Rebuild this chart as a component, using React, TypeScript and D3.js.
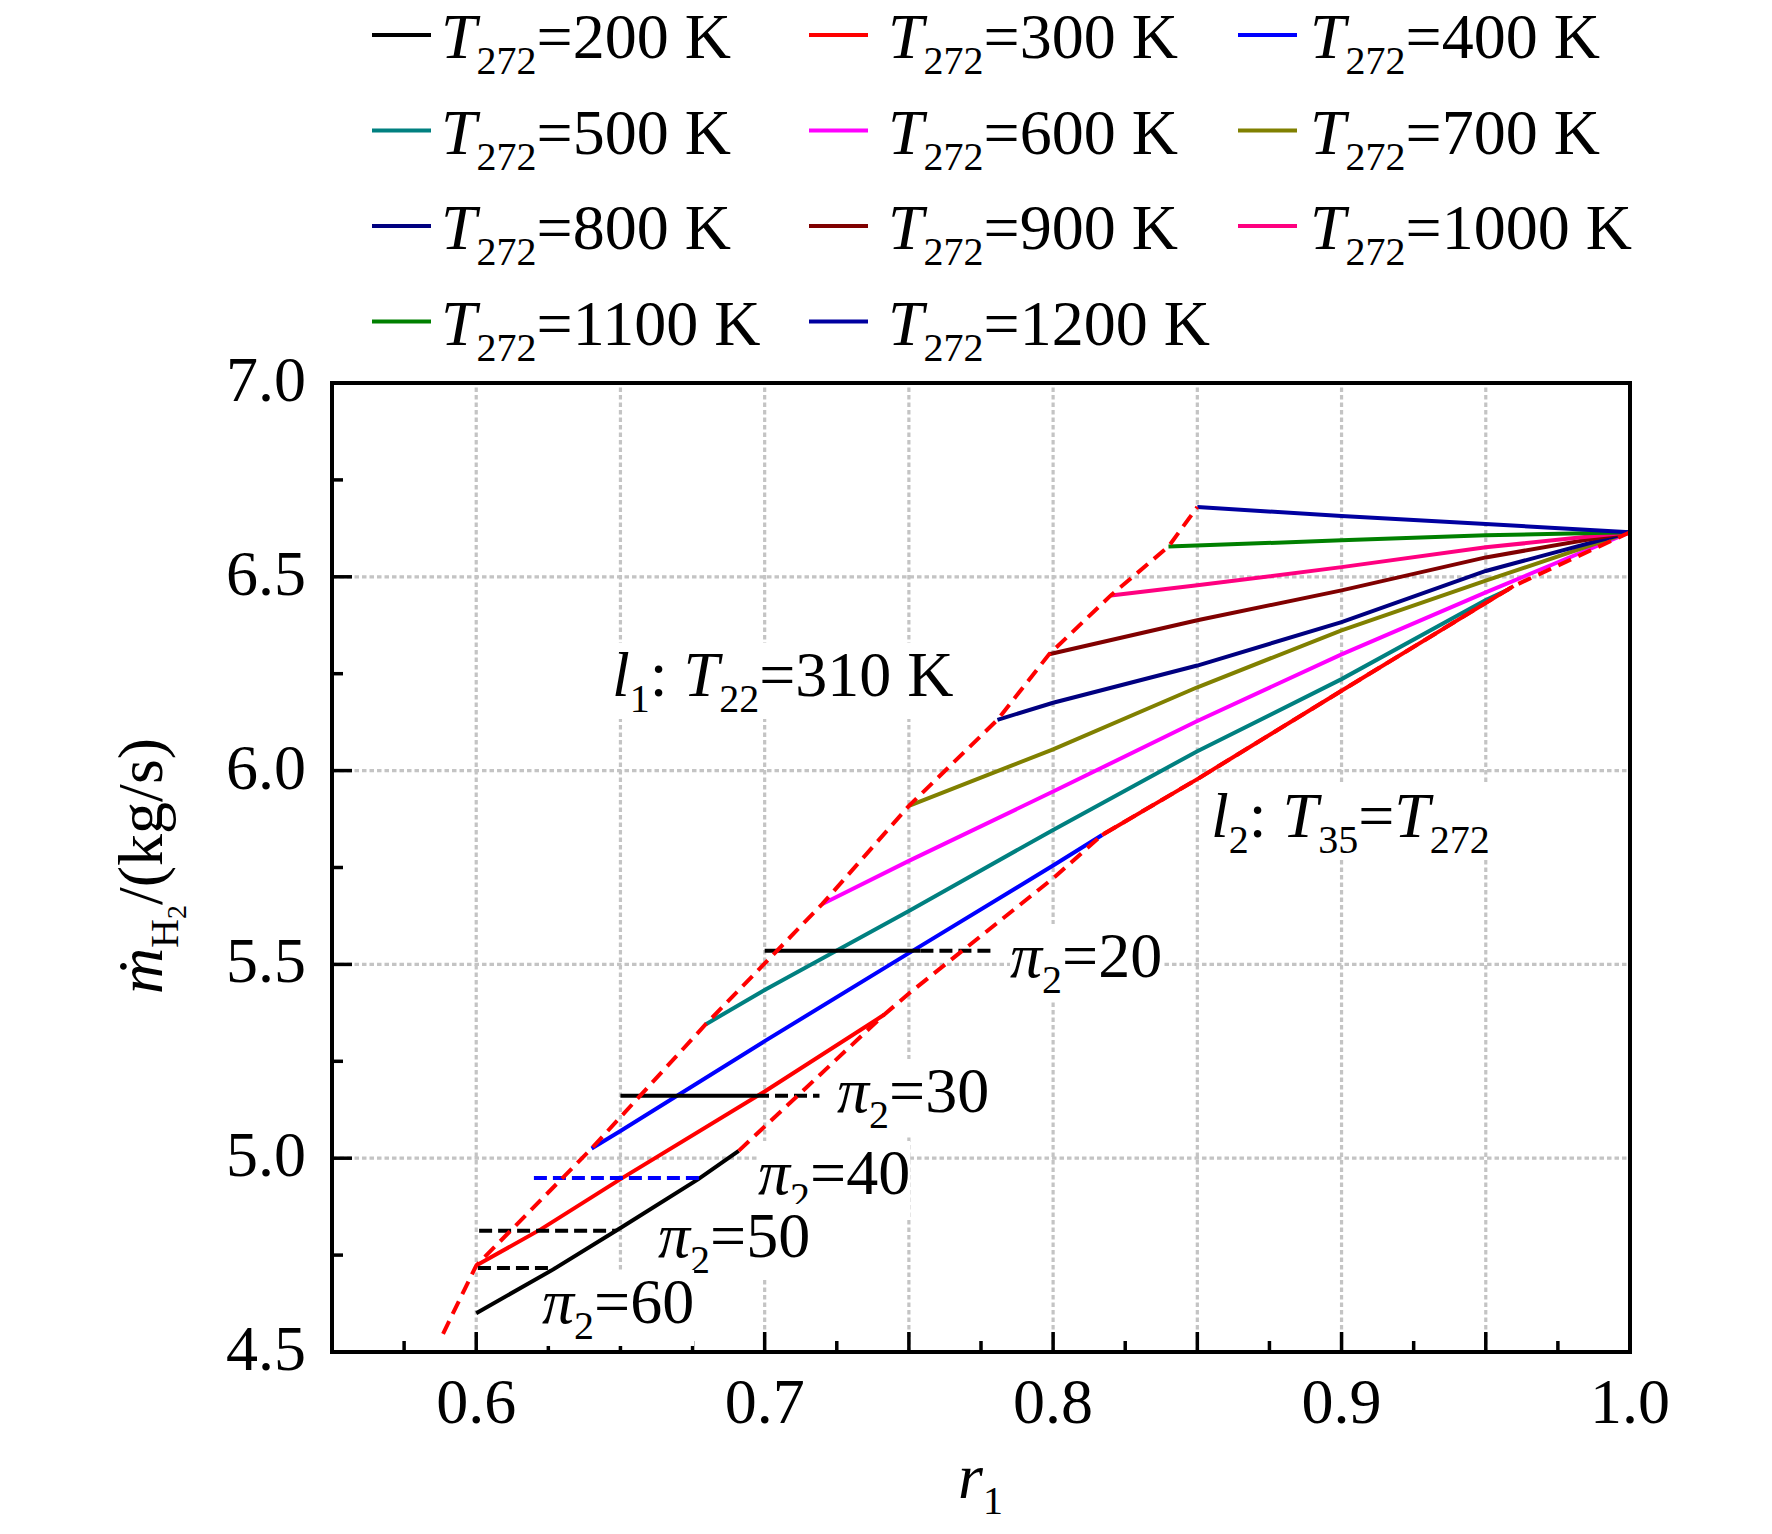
import React, { useEffect, useRef } from "react";
import * as d3 from "d3";

type Pt = [number, number];
type Part = [string, number, boolean?];

const W = 1772;
const H = 1534;
const SERIF = "'Liberation Serif', 'Times New Roman', serif";

// T272 series, [r1, m_H2]
const temps = [200, 300, 400, 500, 600, 700, 800, 900, 1000, 1100, 1200];
const tempColors = [
  "#000000", "#ff0000", "#0000ff", "#008080", "#ff00ff", "#808000",
  "#000080", "#800000", "#ff0080", "#008000", "#0000a0",
];

const t200: Pt[] = [[0.6, 4.6], [0.626, 4.71], [0.65, 4.82], [0.677, 4.946], [0.691, 5.019]];
const t300: Pt[] = [[0.6, 4.723], [0.6225, 4.817], [0.65, 4.946], [0.7, 5.172], [0.7414, 5.37]];
const t400: Pt[] = [[0.64, 5.025], [0.65, 5.07], [0.7, 5.302], [0.75, 5.529], [0.8, 5.755], [0.817, 5.834]];
const t500: Pt[] = [[0.6795, 5.345], [0.7, 5.434], [0.75, 5.638], [0.8, 5.847], [0.85, 6.05], [0.9, 6.236], [0.95, 6.44], [0.958, 6.468]];
const t600: Pt[] = [[0.72, 5.656], [0.75, 5.767], [0.8, 5.946], [0.85, 6.128], [0.9, 6.3], [0.95, 6.46], [1.0, 6.615]];
const t700: Pt[] = [[0.75, 5.909], [0.8, 6.055], [0.85, 6.215], [0.9, 6.362], [0.95, 6.49], [1.0, 6.615]];
const t800: Pt[] = [[0.7807, 6.131], [0.8, 6.175], [0.85, 6.271], [0.9, 6.383], [0.95, 6.515], [1.0, 6.615]];
const t900: Pt[] = [[0.7986, 6.3], [0.85, 6.388], [0.9, 6.465], [0.95, 6.55], [1.0, 6.615]];
const t1000: Pt[] = [[0.82, 6.452], [0.85, 6.478], [0.9, 6.525], [0.95, 6.576], [1.0, 6.615]];
const t1100: Pt[] = [[0.84, 6.578], [0.9, 6.594], [0.95, 6.607], [1.0, 6.615]];
const t1200: Pt[] = [[0.85, 6.68], [0.9, 6.657], [0.95, 6.636], [1.0, 6.615]];
const series = [t200, t300, t400, t500, t600, t700, t800, t900, t1000, t1100, t1200];

// boundary lines l1 (T22=310 K) and l2 (T35=T272)
const l1: Pt[] = [
  [0.5885, 4.547], [0.6, 4.723], [0.64, 5.025], [0.6795, 5.345], [0.72, 5.656], [0.75, 5.909],
  [0.7807, 6.131], [0.7986, 6.3], [0.82, 6.452], [0.84, 6.578], [0.85, 6.68],
];
const l2: Pt[] = [
  [0.691, 5.019], [0.7414, 5.37], [0.75, 5.425], [0.8, 5.722], [0.817, 5.834],
  [0.85, 5.978], [0.9, 6.206], [0.9596, 6.476], [1.0, 6.615],
];
const l2Solid: Pt[] = [[0.817, 5.834], [0.85, 5.978], [0.9, 6.206], [0.9596, 6.476]];

// constant pi2 lines
const piValues = [20, 30, 40, 50, 60];
const piFlow = [5.535, 5.161, 4.949, 4.813, 4.717];
const piSolid: (Pt | null)[] = [[0.7, 0.754], [0.65, 0.697], null, null, null];
const piDashed: Pt[] = [[0.754, 0.779], [0.697, 0.719], [0.62, 0.678], [0.601, 0.6485], [0.6006, 0.627]];
const piColors = ["#000000", "#000000", "#0000ff", "#000000", "#000000"];
const piLabelPos: Pt[] = [[1010, 977], [837, 1112], [758, 1194], [658, 1257], [542, 1323]];

const SIZES = [64, 40, 28];
const SHIFTS = [0, 16, 24];

function richText(
  parent: d3.Selection<any, unknown, null, undefined>,
  x: number,
  y: number,
  parts: Part[],
  anchor = "start"
) {
  const t = parent
    .append("text")
    .attr("x", x)
    .attr("y", y)
    .attr("font-family", SERIF)
    .attr("text-anchor", anchor)
    .attr("fill", "#000")
    .style("white-space", "pre");
  let cur = 0;
  parts.forEach(([s, lvl, it]) => {
    t.append("tspan")
      .attr("dy", SHIFTS[lvl] - cur)
      .attr("font-size", SIZES[lvl])
      .attr("font-style", it ? "italic" : "normal")
      .text(s);
    cur = SHIFTS[lvl];
  });
  return t;
}

export default function App() {
  const svgRef = useRef<SVGSVGElement | null>(null);

  useEffect(() => {
    if (!svgRef.current) return;
    const svg = d3.select(svgRef.current);
    svg.selectAll("*").remove();

    const x = d3.scaleLinear().domain([0.55, 1.0]).range([332, 1630]);
    const y = d3.scaleLinear().domain([4.5, 7.0]).range([1352, 383]);
    const line = d3.line<Pt>().x(d => x(d[0])).y(d => y(d[1]));

    // grid
    const grid = svg.append("g");
    d3.range(12, 20).forEach(i => {
      grid.append("line")
        .attr("x1", x(i * 0.05)).attr("x2", x(i * 0.05))
        .attr("y1", y(4.5)).attr("y2", y(7.0));
    });
    d3.range(10, 14).forEach(i => {
      grid.append("line")
        .attr("x1", x(0.55)).attr("x2", x(1.0))
        .attr("y1", y(i * 0.5)).attr("y2", y(i * 0.5));
    });
    grid.selectAll("line")
      .attr("stroke", "#c4c4c4")
      .attr("stroke-width", 3.2)
      .attr("stroke-dasharray", "4.5 3");

    // ticks (inward)
    const ticks = svg.append("g").attr("stroke", "#000").attr("stroke-width", 3.5);
    d3.range(11, 21).forEach(i => {
      const v = i * 0.05;
      ticks.append("line").attr("x1", x(v)).attr("x2", x(v)).attr("y1", y(4.5)).attr("y2", y(4.5) - 20);
      if (i < 20) {
        const m = (i + 0.5) * 0.05;
        ticks.append("line").attr("x1", x(m)).attr("x2", x(m)).attr("y1", y(4.5)).attr("y2", y(4.5) - 11);
      }
      if (i % 2 === 0) {
        svg.append("text")
          .attr("x", x(v)).attr("y", 1423)
          .attr("text-anchor", "middle")
          .attr("font-family", SERIF).attr("font-size", 64)
          .text(v.toFixed(1));
      }
    });
    d3.range(9, 15).forEach(i => {
      const v = i * 0.5;
      ticks.append("line").attr("x1", x(0.55)).attr("x2", x(0.55) + 20).attr("y1", y(v)).attr("y2", y(v));
      if (i < 14) {
        const m = (i + 0.5) * 0.5;
        ticks.append("line").attr("x1", x(0.55)).attr("x2", x(0.55) + 11).attr("y1", y(m)).attr("y2", y(m));
      }
      svg.append("text")
        .attr("x", 306).attr("y", y(v) + 18)
        .attr("text-anchor", "end")
        .attr("font-family", SERIF).attr("font-size", 64)
        .text(v.toFixed(1));
    });

    // annotations with white boxes
    const anno = svg.append("g");
    const boxed = (t: d3.Selection<SVGTextElement, unknown, null, undefined>) => {
      const b = (t.node() as SVGTextElement).getBBox();
      anno.insert("rect", () => t.node())
        .attr("x", b.x).attr("y", b.y + 4).attr("width", b.width).attr("height", b.height - 6)
        .attr("fill", "#fff");
    };
    boxed(richText(anno, 612, 696, [["l", 0, true], ["1", 1], [": ", 0], ["T", 0, true], ["22", 1], ["=310 K", 0]]));
    boxed(richText(anno, 1211, 837, [["l", 0, true], ["2", 1], [": ", 0], ["T", 0, true], ["35", 1], ["=", 0], ["T", 0, true], ["272", 1]]));
    piValues.forEach((p, i) => {
      boxed(richText(anno, piLabelPos[i][0], piLabelPos[i][1], [["\u03c0", 0, true], ["2", 1], ["=" + p, 0]]));
    });

    // data
    const data = svg.append("g").attr("fill", "none").attr("stroke-width", 4);
    series.forEach((s, i) => {
      data.append("path").attr("d", line(s)).attr("stroke", tempColors[i]);
    });
    piValues.forEach((_, i) => {
      const sol = piSolid[i];
      if (sol) {
        data.append("path")
          .attr("d", line([[sol[0], piFlow[i]], [sol[1], piFlow[i]]]))
          .attr("stroke", piColors[i]);
      }
      data.append("path")
        .attr("d", line([[piDashed[i][0], piFlow[i]], [piDashed[i][1], piFlow[i]]]))
        .attr("stroke", piColors[i])
        .attr("stroke-dasharray", "13 6");
    });
    data.append("path").attr("d", line(l1)).attr("stroke", "#ff0000").attr("stroke-dasharray", "14 8");
    data.append("path").attr("d", line(l2)).attr("stroke", "#ff0000").attr("stroke-dasharray", "14 8");
    data.append("path").attr("d", line(l2Solid)).attr("stroke", "#ff0000");

    // frame
    svg.append("rect")
      .attr("x", x(0.55)).attr("y", y(7.0))
      .attr("width", x(1.0) - x(0.55)).attr("height", y(4.5) - y(7.0))
      .attr("fill", "none").attr("stroke", "#000").attr("stroke-width", 4);

    // axis titles
    richText(svg, 958, 1498, [["r", 0, true], ["1", 1]]);
    const yl = svg.append("g").attr("transform", "translate(162,866) rotate(-90)");
    richText(yl, 0, 0, [["\u1e41", 0, true], ["H", 1], ["2", 2], ["/(kg/s)", 0]], "middle");

    // legend
    const lineX = [372, 809, 1238];
    const textX = [441, 888, 1310];
    temps.forEach((t, i) => {
      const col = i % 3;
      const row = Math.floor(i / 3);
      const base = 58 + row * 95.5;
      svg.append("line")
        .attr("x1", lineX[col]).attr("x2", lineX[col] + 59)
        .attr("y1", base - 23).attr("y2", base - 23)
        .attr("stroke", tempColors[i]).attr("stroke-width", 4);
      richText(svg, textX[col], base, [["T", 0, true], ["272", 1], ["=" + t + " K", 0]]);
    });
  }, []);

  return (
    <svg
      ref={svgRef}
      width={W}
      height={H}
      style={{ position: "absolute", left: 0, top: 0, background: "#fff" }}
    />
  );
}
